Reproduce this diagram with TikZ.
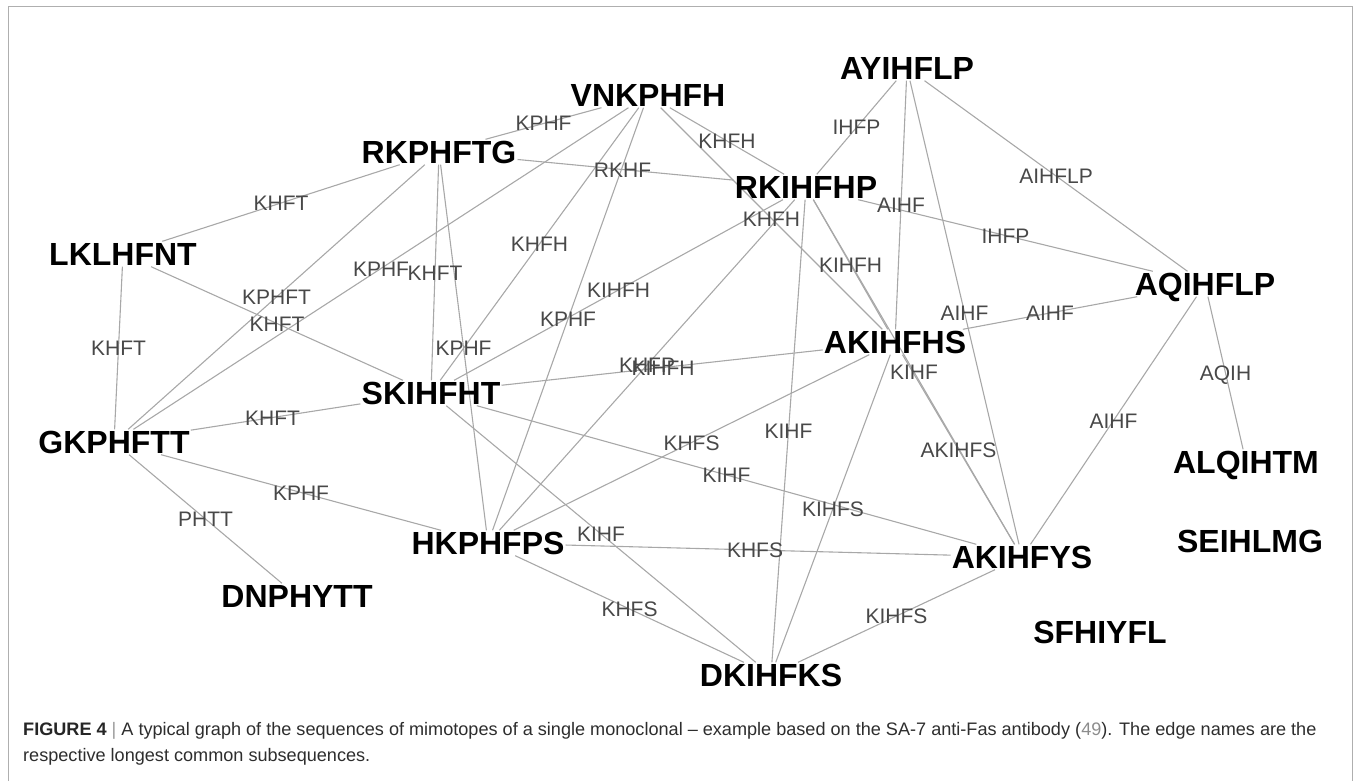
\documentclass[tikz,border=0pt]{standalone}
\usepackage{fontspec}
\setmainfont{Liberation Sans}
\usetikzlibrary{calc,backgrounds}
\definecolor{edgegray}{RGB}{168,168,168}
\definecolor{labgray}{RGB}{72,72,72}
\definecolor{framegray}{RGB}{175,175,175}
\definecolor{captext}{RGB}{45,45,45}
\definecolor{reflink}{RGB}{140,140,140}
\begin{document}
\begin{tikzpicture}[x=1pt,y=-1pt,
  seq/.style={font=\fontsize{32}{32}\selectfont\bfseries, text=black, inner sep=1pt, text height=23pt, text depth=0pt},
  edge/.style={draw=edgegray, line width=1.1pt},
  elab/.style={font=\fontsize{21}{21}\selectfont, text=labgray, inner sep=0pt, text height=15pt, text depth=0pt},
  captxt/.style={font=\fontsize{18.1}{18.1}\selectfont, text=captext, anchor=base west, inner sep=0pt}]
\useasboundingbox (0,0) rectangle (1356,781);
\draw[framegray, line width=1.3pt] (8.5,781) -- (8.5,6.5) -- (1352.5,6.5) -- (1352.5,781);

% sequences
\node[seq] (VN)  at (648,95)   {VNKPHFH};
\node[seq] (RKP) at (439,152)  {RKPHFTG};
\node[seq] (AY)  at (907,68)   {AYIHFLP};
\node[seq] (RKI) at (806,187)  {RKIHFHP};
\node[seq] (LK)  at (123,254)  {LKLHFNT};
\node[seq] (AQ)  at (1205,284) {AQIHFLP};
\node[seq] (AKS) at (895,342)  {AKIHFHS};
\node[seq] (SK)  at (431,393)  {SKIHFHT};
\node[seq] (GK)  at (114,442)  {GKPHFTT};
\node[seq] (AL)  at (1246,462) {ALQIHTM};
\node[seq] (HK)  at (488,543)  {HKPHFPS};
\node[seq] (AKY) at (1022,557) {AKIHFYS};
\node[seq] (SE)  at (1250,541) {SEIHLMG};
\node[seq] (DN)  at (297,596)  {DNPHYTT};
\node[seq] (SF)  at (1100,632) {SFHIYFL};
\node[seq] (DK)  at (771,675)  {DKIHFKS};

\newcommand\lnk[3]{%
  \begin{scope}[on background layer]\draw[edge] (#1) -- (#2);\end{scope}%
  \node[elab] at ($(#1)!0.5!(#2)$) {#3};}

\lnk{LK}{RKP}{KHFT}
\lnk{VN}{RKP}{KPHF}
\lnk{RKP}{RKI}{RKHF}
\lnk{VN}{RKI}{KHFH}
\lnk{AY}{RKI}{IHFP}
\lnk{AY}{AQ}{AIHFLP}
\lnk{AY}{AKS}{AIHF}
\lnk{AY}{AKY}{AIHF}
\lnk{RKI}{AQ}{IHFP}
\lnk{AKS}{AQ}{AIHF}
\lnk{AQ}{AKY}{AIHF}
\lnk{AQ}{AL}{AQIH}
\lnk{VN}{AKS}{KHFH}
\lnk{RKI}{AKS}{KIHFH}
\lnk{RKI}{AKY}{KIHF}
\lnk{AKS}{AKY}{AKIHFS}
\lnk{AKS}{DK}{KIHFS}
\lnk{AKY}{DK}{KIHFS}
\lnk{HK}{AKY}{KHFS}
\lnk{HK}{DK}{KHFS}
\lnk{SK}{DK}{KIHF}
\lnk{RKI}{DK}{KIHF}
\lnk{HK}{AKS}{KHFS}
\lnk{RKI}{HK}{KHFP}
\lnk{SK}{AKS}{KIHFH}
\lnk{SK}{RKI}{KIHFH}
\lnk{VN}{HK}{KPHF}
\lnk{VN}{SK}{KHFH}
\lnk{RKP}{HK}{KPHF}
\lnk{RKP}{SK}{KHFT}
\lnk{VN}{GK}{KPHF}
\lnk{RKP}{GK}{KPHFT}
\lnk{LK}{SK}{KHFT}
\lnk{LK}{GK}{KHFT}
\lnk{GK}{SK}{KHFT}
\lnk{GK}{HK}{KPHF}
\lnk{GK}{DN}{PHTT}
\lnk{SK}{AKY}{KIHF}

% caption
\node[captxt] (cap1) at (23,735) {\textbf{\color{black!85}FIGURE 4} {\color{black!40}|} A typical graph of the sequences of mimotopes of a single monoclonal – example based on the SA-7 anti-Fas antibody ({\color{reflink}49}). The edge names are the};
\node[captxt] (cap2) at (23,761) {respective longest common subsequences.};
\end{tikzpicture}
\end{document}
